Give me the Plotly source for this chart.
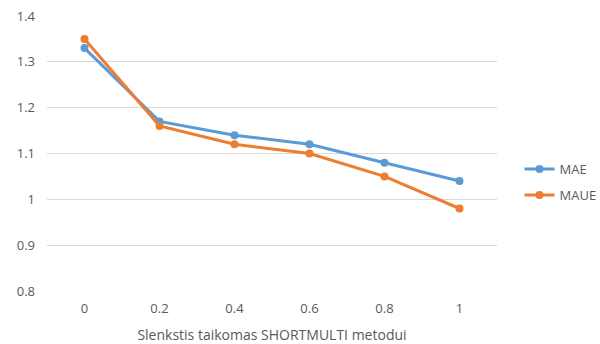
import plotly.graph_objects as go

thresholds = ["0", "0.2", "0.4", "0.6", "0.8", "1"]
mae = [1.33, 1.17, 1.14, 1.12, 1.08, 1.04]
maue = [1.35, 1.16, 1.12, 1.10, 1.05, 0.98]
y_ticks = [0.8, 0.9, 1.0, 1.1, 1.2, 1.3, 1.4]
y_labels = ["0.8", "0.9", "1", "1.1", "1.2", "1.3", "1.4"]

font_family = "Open Sans, Liberation Sans, sans-serif"
text_color = "#595959"

fig = go.Figure()
fig.add_trace(go.Scatter(
    x=thresholds, y=mae, name="MAE", mode="lines+markers",
    legendgroup="mae",
    line=dict(color="#5B9BD5", width=3),
    marker=dict(color="#5B9BD5", size=8),
))
fig.add_trace(go.Scatter(
    x=thresholds, y=maue, name="MAUE", mode="lines+markers",
    legendgroup="maue",
    line=dict(color="#ED7D31", width=3),
    marker=dict(color="#ED7D31", size=8),
))

fig.update_layout(
    width=600, height=344,
    margin=dict(l=47, r=103, t=16, b=53, autoexpand=False),
    paper_bgcolor="white", plot_bgcolor="white",
    font=dict(family=font_family, size=13, color=text_color),
    legend=dict(
        x=1.05, y=0.396, xanchor="left", yanchor="middle",
        font=dict(size=13, color=text_color),
        itemwidth=30, tracegroupgap=6, traceorder="grouped",
    ),
    xaxis=dict(
        type="category", range=[-0.5, 5.5],
        showgrid=False, zeroline=False, showline=False,
        ticks="", ticklabelstandoff=8,
        title=dict(text="Slenkstis taikomas SHORTMULTI metodui",
                   font=dict(size=14, color=text_color), standoff=14),
    ),
    yaxis=dict(
        range=[0.8, 1.4], tickvals=y_ticks, ticktext=y_labels,
        showgrid=True, gridcolor="#D9D9D9", gridwidth=1,
        zeroline=False, showline=False, ticks="",
        ticklabelstandoff=11,
    ),
)

fig.write_html("out.html")
